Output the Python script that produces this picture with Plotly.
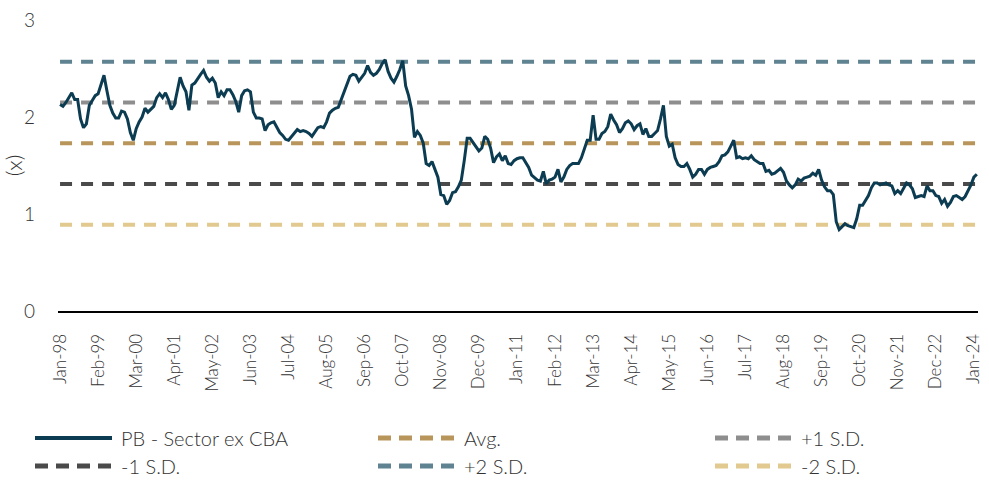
import plotly.graph_objects as go
import pandas as pd

# ---- data (monthly, Jan-98 onward) ----
pb_1998 = [2.13, 2.11, 2.15, 2.20, 2.25, 2.18, 2.18, 1.98, 1.89, 1.93, 2.12, 2.17]
pb_1999 = [2.22, 2.24, 2.33, 2.43, 2.27, 2.12, 2.04, 1.99, 1.99, 2.06, 2.05, 1.98]
pb_2000 = [1.84, 1.76, 1.88, 1.95, 2.00, 2.09, 2.05, 2.08, 2.11, 2.20, 2.24, 2.20]
pb_2001 = [2.25, 2.18, 2.08, 2.12, 2.28, 2.41, 2.32, 2.26, 2.07, 2.33, 2.35, 2.40]
pb_2002 = [2.44, 2.48, 2.41, 2.37, 2.40, 2.35, 2.20, 2.26, 2.22, 2.28, 2.28, 2.23]
pb_2003 = [2.16, 2.05, 2.22, 2.27, 2.28, 2.26, 2.05, 1.99, 1.99, 1.98, 1.86, 1.92]
pb_2004 = [1.94, 1.95, 1.90, 1.84, 1.81, 1.77, 1.76, 1.80, 1.83, 1.87, 1.85, 1.86]
pb_2005 = [1.85, 1.83, 1.80, 1.84, 1.89, 1.90, 1.89, 1.95, 2.04, 2.07, 2.09, 2.10]
pb_2006 = [2.18, 2.28, 2.36, 2.42, 2.44, 2.43, 2.37, 2.41, 2.45, 2.53, 2.46, 2.43]
pb_2007 = [2.45, 2.49, 2.55, 2.59, 2.47, 2.40, 2.36, 2.42, 2.49, 2.58, 2.32, 2.22]
pb_2008 = [2.08, 1.79, 1.85, 1.81, 1.73, 1.52, 1.50, 1.54, 1.45, 1.38, 1.20, 1.19]
pb_2009 = [1.10, 1.14, 1.22, 1.23, 1.28, 1.35, 1.55, 1.78, 1.78, 1.74, 1.70, 1.65]
pb_2010 = [1.68, 1.80, 1.77, 1.68, 1.53, 1.59, 1.62, 1.55, 1.60, 1.52, 1.51, 1.55]
pb_2011 = [1.57, 1.58, 1.58, 1.53, 1.48, 1.40, 1.37, 1.35, 1.34, 1.44, 1.31, 1.35]
pb_2012 = [1.36, 1.38, 1.46, 1.33, 1.38, 1.46, 1.50, 1.52, 1.52, 1.52, 1.58, 1.66]
pb_2013 = [1.76, 1.76, 2.02, 1.77, 1.77, 1.83, 1.85, 1.90, 2.03, 1.97, 1.92, 1.84]
pb_2014 = [1.88, 1.94, 1.96, 1.93, 1.87, 1.91, 1.93, 1.82, 1.88, 1.80, 1.80, 1.83]
pb_2015 = [1.86, 1.98, 2.12, 1.80, 1.70, 1.72, 1.58, 1.51, 1.49, 1.49, 1.52, 1.46]
pb_2016 = [1.38, 1.41, 1.46, 1.46, 1.41, 1.46, 1.48, 1.49, 1.50, 1.54, 1.60, 1.61]
pb_2017 = [1.64, 1.70, 1.76, 1.58, 1.59, 1.57, 1.58, 1.57, 1.60, 1.56, 1.54, 1.52]
pb_2018 = [1.52, 1.44, 1.45, 1.41, 1.42, 1.45, 1.47, 1.43, 1.34, 1.30, 1.27, 1.30]
pb_2019 = [1.36, 1.34, 1.37, 1.38, 1.39, 1.42, 1.40, 1.46, 1.35, 1.28, 1.24, 1.24]
pb_2020 = [1.20, 0.92, 0.84, 0.87, 0.90, 0.88, 0.87, 0.86, 0.95, 1.09, 1.09, 1.14]
pb_2021 = [1.19, 1.27, 1.32, 1.32, 1.30, 1.31, 1.32, 1.30, 1.29, 1.21, 1.24, 1.21]
pb_2022 = [1.26, 1.32, 1.30, 1.26, 1.17, 1.18, 1.19, 1.18, 1.29, 1.24, 1.24, 1.19]
pb_2023 = [1.18, 1.11, 1.15, 1.08, 1.12, 1.18, 1.19, 1.17, 1.15, 1.18, 1.24, 1.30]
pb_2024 = [1.38, 1.41]

pb_values = (pb_1998 + pb_1999 + pb_2000 + pb_2001 + pb_2002 + pb_2003 + pb_2004
             + pb_2005 + pb_2006 + pb_2007 + pb_2008 + pb_2009 + pb_2010 + pb_2011
             + pb_2012 + pb_2013 + pb_2014 + pb_2015 + pb_2016 + pb_2017 + pb_2018
             + pb_2019 + pb_2020 + pb_2021 + pb_2022 + pb_2023 + pb_2024)

months = list(pd.date_range("1998-01-01", periods=len(pb_values), freq="MS").strftime("%b-%y"))
tick_labels = ["Jan-98", "Feb-99", "Mar-00", "Apr-01", "May-02", "Jun-03", "Jul-04",
               "Aug-05", "Sep-06", "Oct-07", "Nov-08", "Dec-09", "Jan-11", "Feb-12",
               "Mar-13", "Apr-14", "May-15", "Jun-16", "Jul-17", "Aug-18", "Sep-19",
               "Oct-20", "Nov-21", "Dec-22", "Jan-24"]

band_names = ["Avg.", "+1 S.D.", "-1 S.D.", "+2 S.D.", "-2 S.D."]
band_values = [1.73, 2.15, 1.31, 2.57, 0.89]
band_colors = ["#b8955a", "#8e8e8e", "#4a4a4a", "#5f8391", "#e1c98f"]

pb_name = "PB - Sector ex CBA"
pb_color = "#0c3c52"

FONT = "Lato"
TXT = "#333333"

fig = go.Figure()
for name, val, col in zip(band_names, band_values, band_colors):
    fig.add_trace(go.Scatter(x=months, y=[val] * len(months), mode="lines", name=name,
                             line=dict(color=col, width=4, dash="12px,9px"),
                             showlegend=False, hoverinfo="skip"))
fig.add_trace(go.Scatter(x=months, y=pb_values, mode="lines", name=pb_name,
                         line=dict(color=pb_color, width=3), showlegend=False))

# ---- custom legend (3 columns x 2 rows) ----
W, L, T, B = 989, 58, 20, 311
PW, PH = 978 - L, B - T
def px(x):
    return (x - L) / PW
def py(y):
    return (B - y) / PH

legend_items = [(pb_name, pb_color, "solid"), ("Avg.", band_colors[0], "dash"),
                ("+1 S.D.", band_colors[1], "dash"), ("-1 S.D.", band_colors[2], "dash"),
                ("+2 S.D.", band_colors[3], "dash"), ("-2 S.D.", band_colors[4], "dash")]
col_x = [35, 378, 715]
row_y = [438, 466]
for i, (name, col, style) in enumerate(legend_items):
    cx = col_x[i % 3]
    ry = row_y[i // 3]
    if style == "solid":
        fig.add_shape(type="line", xref="paper", yref="paper", x0=px(cx), x1=px(cx + 77),
                      y0=py(ry), y1=py(ry), line=dict(color=col, width=4))
    else:
        fig.add_shape(type="line", xref="paper", yref="paper", x0=px(cx), x1=px(cx + 78),
                      y0=py(ry), y1=py(ry), line=dict(color=col, width=5, dash="13px,8px"))
    fig.add_annotation(xref="paper", yref="paper", x=px(cx + 84), y=py(ry), text=name,
                       showarrow=False, xanchor="left", yanchor="middle",
                       font=dict(family=FONT, size=20, color=TXT, weight=300))

fig.update_layout(
    width=W, height=480,
    margin=dict(l=L, r=W - 978, t=T, b=480 - B),
    plot_bgcolor="white", paper_bgcolor="white",
    font=dict(family=FONT, color=TXT),
    showlegend=False,
)
fig.update_xaxes(type="category", range=[-0.7, 313.4], tickmode="array",
                 tickvals=tick_labels, ticktext=tick_labels, tickangle=-90,
                 tickfont=dict(family=FONT, size=17, color=TXT, weight=300),
                 showgrid=False, zeroline=False, showline=True, linecolor="black",
                 linewidth=2, ticks="", ticklabelstandoff=14, automargin=False)
fig.update_yaxes(range=[0, 3], tickvals=[0, 1, 2, 3], showgrid=False, zeroline=False,
                 showline=False, tickfont=dict(family=FONT, size=19, color=TXT, weight=300),
                 ticklabelstandoff=22, automargin=False,
                 title=dict(text="(x)", font=dict(family=FONT, size=22, color=TXT, weight=300),
                            standoff=4))

fig.write_html("out.html")
